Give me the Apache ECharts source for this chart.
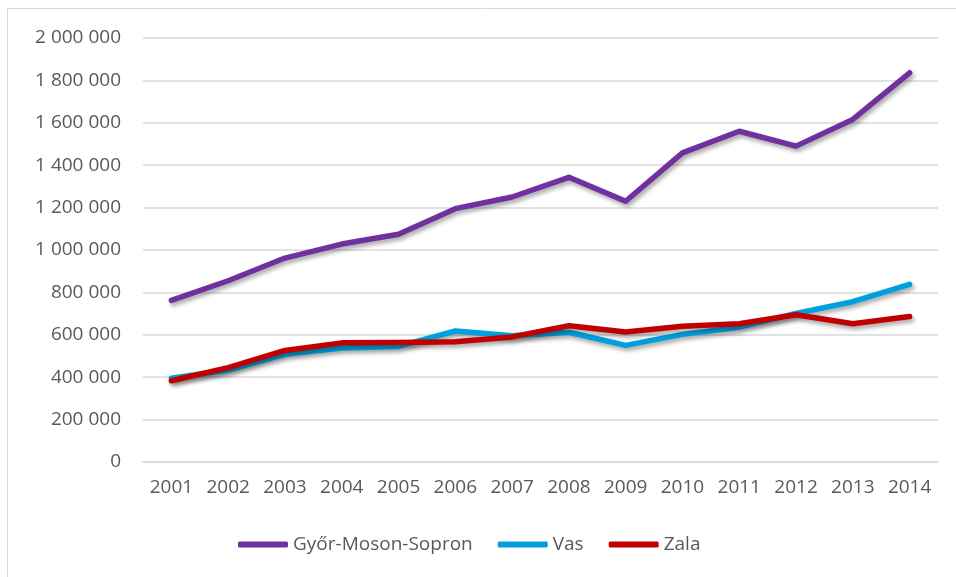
<!DOCTYPE html>
<html>
<head>
<meta charset="utf-8">
<script src="https://cdn.jsdelivr.net/npm/echarts@6/dist/echarts.min.js"></script>
<style>
html,body{margin:0;padding:0;background:#fff;}
#main{width:956px;height:577px;}
</style>
</head>
<body>
<div id="main"></div>
<script>
// years and county values
var years = ['2001','2002','2003','2004','2005','2006','2007','2008','2009','2010','2011','2012','2013','2014'];
var gyor = [762000,855000,962000,1028000,1074000,1195000,1250000,1343000,1230000,1458000,1560000,1490000,1616000,1836000];
var vas = [395000,434000,508000,538000,545000,618000,595000,612000,550000,602000,636000,701000,756000,838000];
var zala = [383000,445000,526000,562000,564000,567000,590000,643000,613000,640000,652000,695000,652000,686000];
var names = ['Győr-Moson-Sopron','Vas','Zala'];
var colors = ['#7030A0','#00A0DC','#C00000'];

var font = '"Open Sans", "Liberation Sans", sans-serif';

function spaced(v){
	return String(v).replace(/\B(?=(\d{3})+(?!\d))/g, ' ');
}

function mkSeries(i, data){
	return {
		name: names[i],
		type: 'line',
		data: data,
		symbol: 'none',
		color: colors[i],
		lineStyle: {
			width: 5.5,
			color: colors[i],
			cap: 'round',
			join: 'round',
			shadowColor: 'rgba(0,0,0,0.35)',
			shadowBlur: 4,
			shadowOffsetX: 2,
			shadowOffsetY: 3
		}
	};
}

var chart = echarts.init(document.getElementById('main'));
var option = {
	animation: false,
	backgroundColor: '#fff',
	graphic: [{
		type: 'rect',
		shape: {x: 7.5, y: 8.5, width: 1000, height: 1000},
		style: {fill: 'none', stroke: '#d9d9d9', lineWidth: 1},
		silent: true
	}],
	grid: {left: 143, right: 18, top: 38, bottom: 115},
	legend: {
		bottom: 18,
		left: 233,
		data: names,
		icon: 'roundRect',
		itemWidth: 50,
		itemHeight: 6,
		itemGap: 25,
		textStyle: {color: '#595959', fontSize: 19, fontFamily: font}
	},
	xAxis: {
		type: 'category',
		data: years,
		boundaryGap: true,
		axisLine: {lineStyle: {color: '#d9d9d9', width: 1.5}},
		axisTick: {show: false},
		axisLabel: {color: '#595959', fontSize: 19, fontFamily: font, margin: 16, interval: 0}
	},
	yAxis: {
		type: 'value',
		min: 0,
		max: 2000000,
		interval: 200000,
		axisLine: {show: false},
		axisTick: {show: false},
		splitLine: {lineStyle: {color: '#d9d9d9', width: 1.5}},
		axisLabel: {color: '#595959', fontSize: 19, fontFamily: font, margin: 22, formatter: spaced}
	},
	series: [mkSeries(0, gyor), mkSeries(1, vas), mkSeries(2, zala)]
};
chart.setOption(option);
</script>
</body>
</html>
